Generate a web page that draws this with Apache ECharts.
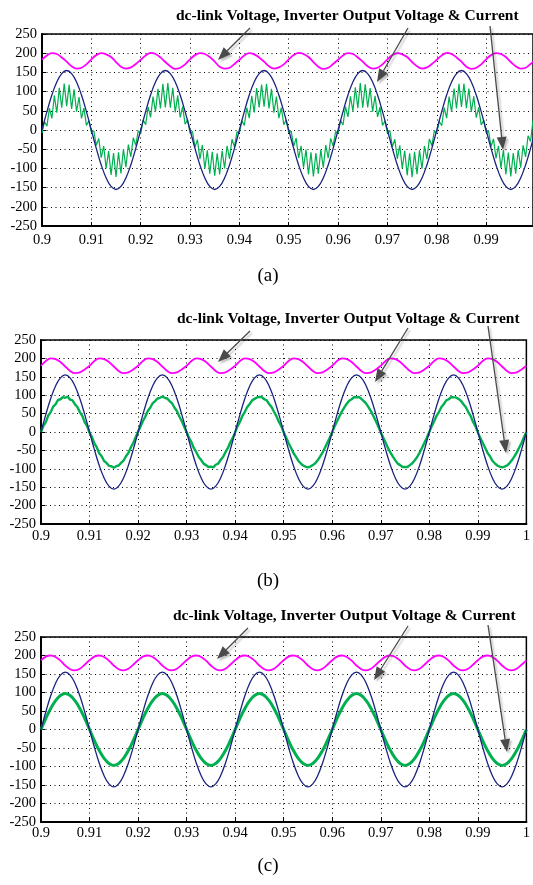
<!DOCTYPE html>
<html>
<head>
<meta charset="utf-8">
<script src="https://cdn.jsdelivr.net/npm/echarts@6/dist/echarts.min.js"></script>
<style>
html,body{margin:0;padding:0;background:#fff;}
#chart{width:533px;height:885px;}
</style>
</head>
<body>
<div id="chart"></div>
<script>
// ---------- DATA ----------
const titleText = 'dc-link Voltage, Inverter Output Voltage & Current';
const captions = ['(a)', '(b)', '(c)'];
const yTicks = { min: -250, max: 250, interval: 50 };
const xStart = 0.9;
const coarseStep = 0.001;
const fineStep = 0.0005;

// Inverter output voltage (blue), sampled every 1 ms from 0.900 s
const inverterVoltage = [
  0, 48, 91, 125, 147, 155, 147, 125, 91, 48, 0, -48, -91, -125, -147, -155, -147, -125, -91, -48,
  0, 48, 91, 125, 147, 155, 147, 125, 91, 48, 0, -48, -91, -125, -147, -155, -147, -125, -91, -48,
  0, 48, 91, 125, 147, 155, 147, 125, 91, 48, 0, -48, -91, -125, -147, -155, -147, -125, -91, -48,
  0, 48, 91, 125, 147, 155, 147, 125, 91, 48, 0, -48, -91, -125, -147, -155, -147, -125, -91, -48,
  0, 48, 91, 125, 147, 155, 147, 125, 91, 48, 0, -48, -91, -125, -147, -155, -147, -125, -91, -48,
  0
];

// dc-link voltage (magenta), every 1 ms
const dcLinkA = [
  183, 194, 200, 198, 189, 178, 166, 160, 162, 171,
  184, 195, 200, 197, 190, 177, 165, 160, 163, 172,
  183, 194, 201, 198, 189, 177, 166, 159, 162, 171,
  184, 195, 200, 198, 190, 178, 165, 160, 162, 172,
  183, 194, 200, 197, 189, 178, 166, 160, 163, 171,
  184, 195, 201, 198, 190, 177, 165, 159, 162, 172,
  183, 194, 200, 198, 189, 178, 166, 160, 162, 171,
  184, 195, 200, 197, 190, 177, 166, 160, 163, 172,
  183, 194, 201, 198, 189, 178, 165, 159, 162, 171,
  184, 195, 200, 198, 190, 177, 166, 160, 162, 172,
  183
];
const dcLinkB = [
  180, 193, 200, 198, 190, 178, 166, 160, 162, 170,
  180, 193, 200, 198, 190, 178, 166, 160, 162, 170,
  180, 193, 200, 198, 190, 178, 166, 160, 162, 170,
  180, 193, 200, 198, 190, 178, 166, 160, 162, 170,
  180, 193, 200, 198, 190, 178, 166, 160, 162, 170,
  180, 193, 200, 198, 190, 178, 166, 160, 162, 170,
  180, 193, 200, 198, 190, 178, 166, 160, 162, 170,
  180, 193, 200, 198, 190, 178, 166, 160, 162, 170,
  180, 193, 200, 198, 190, 178, 166, 160, 162, 170,
  180, 193, 200, 198, 190, 178, 166, 160, 162, 170,
  180
];
const dcLinkC = [
  187, 197, 200, 196, 186, 173, 163, 160, 164, 175,
  187, 197, 200, 196, 186, 173, 163, 160, 164, 175,
  187, 197, 200, 196, 186, 173, 163, 160, 164, 175,
  187, 197, 200, 196, 186, 173, 163, 160, 164, 175,
  187, 197, 200, 196, 186, 173, 163, 160, 164, 175,
  187, 197, 200, 196, 186, 173, 163, 160, 164, 175,
  187, 197, 200, 196, 186, 173, 163, 160, 164, 175,
  187, 197, 200, 196, 186, 173, 163, 160, 164, 175,
  187, 197, 200, 196, 186, 173, 163, 160, 164, 175,
  187, 197, 200, 196, 186, 173, 163, 160, 164, 175,
  187
];

// Output current (green), panel (a): every 0.5 ms, strong switching ripple
const currentA = [
  -8, 22, 10, 57, 30, 90, 45, 110, 58, 121, 62, 118, 55, 106, 48, 86, 30, 57, 12, 24,
  -6, -2, -40, -22, -72, -42, -100, -55, -117, -60, -122, -58, -113, -50, -97, -38, -70, -20, -40, -2,
  -10, 26, 14, 60, 33, 87, 48, 107, 56, 120, 59, 122, 58, 110, 46, 90, 33, 61, 15, 27,
  -9, -4, -45, -25, -76, -39, -101, -53, -114, -57, -119, -61, -116, -54, -100, -41, -75, -24, -44, -5,
  -7, 24, 12, 58, 31, 89, 46, 109, 59, 118, 61, 120, 56, 107, 45, 87, 31, 58, 14, 26,
  -7, -3, -42, -21, -73, -41, -98, -51, -116, -58, -121, -60, -114, -51, -98, -39, -73, -22, -42, -4,
  -9, 25, 13, 61, 34, 88, 49, 111, 57, 122, 58, 119, 59, 109, 48, 89, 34, 60, 12, 23,
  -8, -2, -44, -24, -75, -40, -100, -54, -118, -61, -123, -57, -115, -53, -101, -42, -76, -23, -41, -3,
  -8, 23, 11, 58, 31, 87, 47, 108, 56, 120, 60, 121, 57, 108, 47, 88, 32, 59, 13, 25,
  -7, -3, -43, -23, -74, -41, -99, -52, -116, -59, -121, -60, -114, -52, -98, -40, -70, -15, -30, 25
];
// panel (b): every 0.5 ms, small ripple
const currentB = [
  0, 17, 27, 45, 54, 69, 75, 87, 89, 95, 93, 96, 88, 86, 75, 68, 54, 44, 27, 16,
  -2, -14, -31, -42, -58, -66, -79, -84, -92, -93, -97, -93, -91, -84, -78, -66, -57, -42, -30, -14,
  1, 15, 30, 42, 57, 66, 78, 84, 91, 93, 96, 93, 91, 84, 78, 66, 57, 42, 30, 14,
  0, -16, -28, -44, -55, -68, -76, -86, -90, -95, -94, -96, -89, -86, -76, -68, -55, -44, -28, -16,
  -1, 16, 28, 44, 55, 68, 76, 86, 90, 94, 95, 95, 89, 86, 76, 68, 55, 43, 28, 16,
  -1, -15, -30, -43, -57, -67, -78, -85, -91, -94, -96, -94, -90, -85, -77, -67, -56, -43, -29, -15,
  0, 16, 29, 43, 56, 67, 77, 85, 89, 95, 94, 95, 90, 84, 77, 67, 56, 43, 29, 15,
  -1, -15, -29, -44, -56, -67, -77, -86, -90, -95, -95, -95, -90, -85, -77, -68, -56, -43, -29, -15,
  0, 16, 29, 44, 55, 68, 76, 86, 89, 95, 94, 94, 90, 85, 76, 68, 55, 44, 28, 16,
  -1, -16, -29, -43, -57, -66, -78, -85, -91, -94, -96, -94, -91, -85, -77, -67, -56, -43, -30, -14,
  0
];
// panel (c): every 1 ms
const currentC = [
  0, 30, 57, 78, 92, 97, 92, 78, 57, 30, 0, -30, -57, -78, -92, -97, -92, -78, -57, -30,
  0, 30, 57, 78, 92, 97, 92, 78, 57, 30, 0, -30, -57, -78, -92, -97, -92, -78, -57, -30,
  0, 30, 57, 78, 92, 97, 92, 78, 57, 30, 0, -30, -57, -78, -92, -97, -92, -78, -57, -30,
  0, 30, 57, 78, 92, 97, 92, 78, 57, 30, 0, -30, -57, -78, -92, -97, -92, -78, -57, -30,
  0, 30, 57, 78, 92, 97, 92, 78, 57, 30, 0, -30, -57, -78, -92, -97, -92, -78, -57, -30,
  0
];

// ---------- LAYOUT / STYLE ----------
const panels = [
  { grid: { left: 42, top: 34, width: 491, height: 192 }, xMax: 0.9995, showMax: false, xLabelMargin: 7,
    dc: dcLinkA, dcStep: coarseStep, cur: currentA, curStep: fineStep, curWidth: 1.2, curSmooth: false,
    titleX: 176, titleY: 17, capY: 276 },
  { grid: { left: 41, top: 340, width: 490, height: 184 }, xMax: 1, showMax: true, xLabelMargin: 5,
    dc: dcLinkB, dcStep: coarseStep, cur: currentB, curStep: fineStep, curWidth: 2.4, curSmooth: false,
    titleX: 177, titleY: 320, capY: 581 },
  { grid: { left: 41, top: 637, width: 490, height: 185 }, xMax: 1, showMax: true, xLabelMargin: 4,
    dc: dcLinkC, dcStep: coarseStep, cur: currentC, curStep: coarseStep, curWidth: 3, curSmooth: true,
    titleX: 173, titleY: 617, capY: 866 }
];

// annotation arrows [startX, startY, tipX, tipY]
const arrows = [
  [250, 28, 218, 60], [408, 28, 377, 82], [490, 26, 503, 150],
  [250, 331, 218, 362], [408, 328, 375, 382], [488, 326, 506, 453],
  [248, 628, 217, 659], [408, 626, 374, 680], [488, 625, 507, 752]
];

const FONT = '"Liberation Serif", "Times New Roman", serif';
const COLORS = { dc: '#ff00ff', volt: '#1a237e', cur: '#00b050' };

function pairs(values, dt) {
  return values.map((v, i) => [+(xStart + i * dt).toFixed(4), v]);
}

const grids = [], xAxes = [], yAxes = [], series = [], graphics = [];
panels.forEach((p, i) => {
  grids.push(Object.assign({ show: true, borderColor: '#000', borderWidth: 1.5, backgroundColor: 'transparent' }, p.grid));
  xAxes.push({
    type: 'value', gridIndex: i, min: xStart, max: p.xMax, interval: 0.01,
    axisLine: { show: true, onZero: false, lineStyle: { color: '#000', width: 2 } },
    axisTick: { show: true, inside: true, length: 4, lineStyle: { color: '#000' } },
    axisLabel: { color: '#000', fontFamily: FONT, fontSize: 14.5, margin: p.xLabelMargin,
      showMaxLabel: p.showMax, showMinLabel: true,
      formatter: v => String(+(+v).toFixed(2)) },
    splitLine: { show: true, lineStyle: { color: '#000', type: [1, 3.5], width: 1 } }
  });
  yAxes.push({
    type: 'value', gridIndex: i, min: yTicks.min, max: yTicks.max, interval: yTicks.interval,
    axisLine: { show: true, onZero: false, lineStyle: { color: '#000', width: 2 } },
    axisTick: { show: true, inside: true, length: 4, lineStyle: { color: '#000' } },
    axisLabel: { color: '#000', fontFamily: FONT, fontSize: 14.5, margin: 5 },
    splitLine: { show: true, lineStyle: { color: '#000', type: [1, 3.5], width: 1 } }
  });
  series.push({
    type: 'line', xAxisIndex: i, yAxisIndex: i, data: pairs(p.dc, p.dcStep), smooth: 0.4,
    showSymbol: false, lineStyle: { color: COLORS.dc, width: 1.8 }, silent: true, z: 3
  });
  series.push({
    type: 'line', xAxisIndex: i, yAxisIndex: i, data: pairs(p.cur, p.curStep), smooth: p.curSmooth ? 0.4 : false,
    showSymbol: false, lineStyle: { color: COLORS.cur, width: p.curWidth }, silent: true, z: 3
  });
  series.push({
    type: 'line', xAxisIndex: i, yAxisIndex: i, data: pairs(inverterVoltage, coarseStep), smooth: 0.4,
    showSymbol: false, lineStyle: { color: COLORS.volt, width: 1.3 }, silent: true, z: 4
  });
  graphics.push({
    type: 'text', left: p.titleX, top: p.titleY - 9,
    style: { text: titleText, font: 'bold 15.5px ' + FONT, fill: '#000' }
  });
  graphics.push({
    type: 'text', x: 268, y: p.capY,
    style: { text: captions[i], font: '19px ' + FONT, fill: '#000', textAlign: 'center', textVerticalAlign: 'middle' }
  });
});

arrows.forEach(a => {
  const [x1, y1, x2, y2] = a;
  const dx = x2 - x1, dy = y2 - y1, L = Math.hypot(dx, dy);
  const ux = dx / L, uy = dy / L, nx = -uy, ny = ux;
  const hl = 13, hw = 5;
  const bx = x2 - ux * hl, by = y2 - uy * hl;
  graphics.push({
    type: 'line', z: 100,
    shape: { x1: x1, y1: y1, x2: bx, y2: by },
    style: { stroke: '#4a4a4a', lineWidth: 1.3, shadowColor: 'rgba(0,0,0,0.25)', shadowBlur: 2, shadowOffsetX: 2, shadowOffsetY: 2 }
  });
  graphics.push({
    type: 'polygon', z: 100,
    shape: { points: [[x2, y2], [bx + nx * hw, by + ny * hw], [bx - nx * hw, by - ny * hw]] },
    style: { fill: '#4a4a4a', shadowColor: 'rgba(0,0,0,0.25)', shadowBlur: 2, shadowOffsetX: 2, shadowOffsetY: 2 }
  });
});

const chart = echarts.init(document.getElementById('chart'), null, { renderer: 'canvas' });
chart.setOption({
  animation: false,
  backgroundColor: '#fff',
  grid: grids, xAxis: xAxes, yAxis: yAxes, series: series, graphic: graphics
});
</script>
</body>
</html>
